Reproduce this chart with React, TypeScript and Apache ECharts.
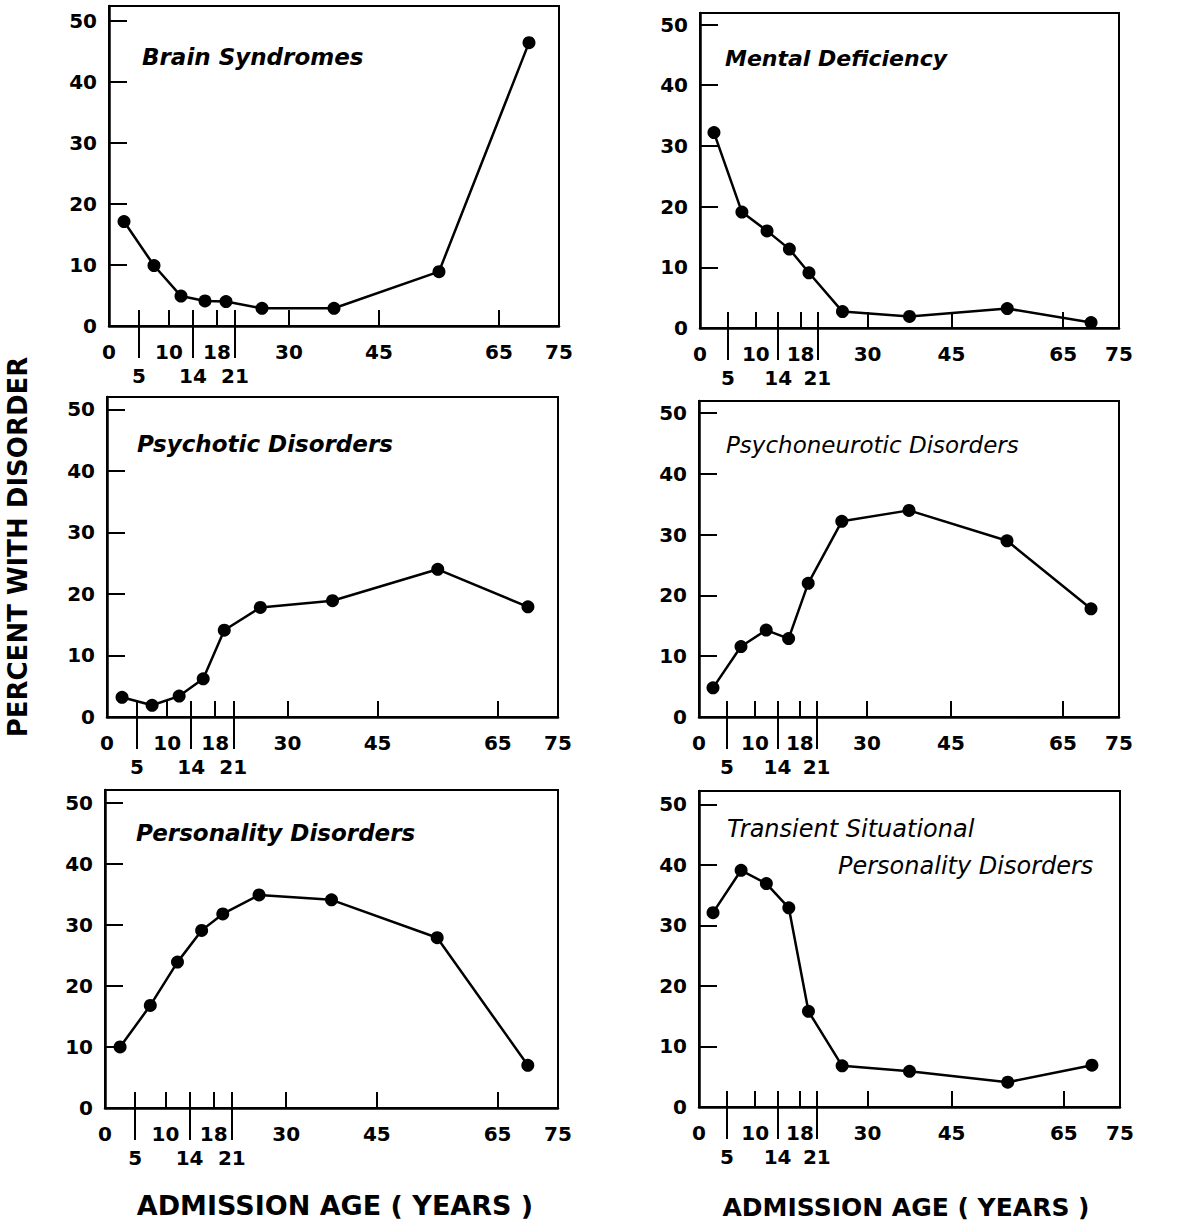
import React, { useEffect, useRef } from "react";
import * as echarts from "echarts";

// Age-group midpoints (years) shared by all panels
const ageMidpoints = [2.5, 7.5, 12, 16, 19.5, 25.5, 37.5, 55, 70];

// Percent with disorder, per panel
const brainSyndromes = [17.1, 9.9, 4.9, 4.1, 4.0, 2.9, 2.9, 8.9, 46.4];
const mentalDeficiency = [32.2, 19.1, 16.0, 13.0, 9.1, 2.7, 1.9, 3.2, 0.9];
const psychoticDisorders = [3.2, 1.9, 3.4, 6.2, 14.1, 17.8, 18.9, 24.0, 17.9];
const psychoneuroticDisorders = [4.8, 11.6, 14.3, 12.9, 22.0, 32.2, 34.0, 29.0, 17.8];
const personalityDisorders = [10.0, 16.8, 23.9, 29.1, 31.8, 34.9, 34.1, 27.9, 7.0];
const transientSituational = [32.1, 39.1, 36.9, 32.9, 15.8, 6.8, 5.9, 4.1, 6.9];

// Axis ticks / labels
const yLabelValues = [0, 10, 20, 30, 40, 50];
const yTickValues = [10, 20, 30, 40, 50];
const xLabelsUpper = [0, 10, 18, 30, 45, 65, 75];
const xLabelsLower = [5, 14, 21];
const xTickValues = [5, 10, 14, 18, 21, 30, 45, 65];

const panelTitles = [
  ["Brain Syndromes"],
  ["Mental Deficiency"],
  ["Psychotic Disorders"],
  ["Psychoneurotic Disorders"],
  ["Personality Disorders"],
  ["Transient Situational", "Personality Disorders"],
];
const panelSeries = [
  brainSyndromes,
  mentalDeficiency,
  psychoticDisorders,
  psychoneuroticDisorders,
  personalityDisorders,
  transientSituational,
];

const FONT = "'DejaVu Sans', sans-serif";

// layout (pixels)
const grids = [
  { left: 109, top: 6, width: 450, height: 320, yMax: 52.4 },
  { left: 700, top: 13, width: 419, height: 315, yMax: 51.9 },
  { left: 107, top: 397, width: 451, height: 320, yMax: 52 },
  { left: 699, top: 401, width: 420, height: 316, yMax: 52 },
  { left: 105, top: 790, width: 453, height: 318, yMax: 52.1 },
  { left: 699, top: 791, width: 421, height: 316, yMax: 52.2 },
];
const titlePos = [
  [{ x: 142, y: 57 }],
  [{ x: 725, y: 58 }],
  [{ x: 137, y: 444 }],
  [{ x: 726, y: 445 }],
  [{ x: 136, y: 833 }],
  [{ x: 727, y: 829 }, { x: 838, y: 866 }],
];
const titleBold = [true, true, true, false, true, false];
const titleSize = [23, 22, 23, 23, 23, 24];

export default function App() {
  const ref = useRef<HTMLDivElement>(null);
  useEffect(() => {
    if (!ref.current) return;
    const chart = echarts.init(ref.current, null, { renderer: "svg" });
    const xAxes: any[] = [];
    const yAxes: any[] = [];
    const series: any[] = [];
    const graphics: any[] = [];
    const labelStyle = {
      fontSize: 20,
      fontWeight: "bold",
      fontFamily: FONT,
      color: "#000",
    };
    grids.forEach((g, i) => {
      xAxes.push({
        gridIndex: i,
        type: "value",
        min: 0,
        max: 75,
        position: "bottom",
        axisLine: { show: true, onZero: false, lineStyle: { color: "#000", width: 2.5 } },
        axisTick: {
          show: true,
          inside: true,
          length: 16,
          customValues: xTickValues,
          lineStyle: { color: "#000", width: 2 },
        },
        axisLabel: { customValues: xLabelsUpper, margin: 16, ...labelStyle },
        splitLine: { show: false },
      });
      xAxes.push({
        gridIndex: i,
        type: "value",
        min: 0,
        max: 75,
        position: "bottom",
        axisLine: { show: false, onZero: false },
        axisTick: {
          show: true,
          inside: false,
          length: 32,
          customValues: xLabelsLower,
          lineStyle: { color: "#000", width: 2 },
        },
        axisLabel: { customValues: xLabelsLower, margin: 40, ...labelStyle },
        splitLine: { show: false },
      });
      yAxes.push({
        gridIndex: i,
        type: "value",
        min: 0,
        max: g.yMax,
        axisLine: { show: true, onZero: false, lineStyle: { color: "#000", width: 2.5 } },
        axisTick: {
          show: true,
          inside: true,
          length: 18,
          customValues: yTickValues,
          lineStyle: { color: "#000", width: 2 },
        },
        axisLabel: { customValues: yLabelValues, margin: 12, ...labelStyle },
        splitLine: { show: false },
      });
      series.push({
        type: "line",
        xAxisIndex: 2 * i,
        yAxisIndex: i,
        data: ageMidpoints.map((a, k) => [a, panelSeries[i][k]]),
        symbol: "circle",
        symbolSize: 13,
        lineStyle: { color: "#000", width: 2.5 },
        itemStyle: { color: "#000" },
        z: 5,
      });
      panelTitles[i].forEach((t, k) => {
        graphics.push({
          type: "text",
          x: titlePos[i][k].x,
          y: titlePos[i][k].y,
          style: {
            text: t,
            fill: "#000",
            font: `italic ${titleBold[i] ? "bold" : "normal"} ${titleSize[i]}px ${FONT}`,
            textAlign: "left",
            textVerticalAlign: "middle",
          },
        });
      });
    });
    graphics.push({
      type: "text",
      x: 18,
      y: 547,
      rotation: Math.PI / 2,
      style: {
        text: "PERCENT WITH DISORDER",
        fill: "#000",
        font: `bold 26px ${FONT}`,
        textAlign: "center",
        textVerticalAlign: "middle",
      },
    });
    graphics.push({
      type: "text",
      x: 335,
      y: 1205,
      style: {
        text: "ADMISSION AGE ( YEARS )",
        fill: "#000",
        font: `bold 27px ${FONT}`,
        textAlign: "center",
        textVerticalAlign: "middle",
      },
    });
    graphics.push({
      type: "text",
      x: 906,
      y: 1207,
      style: {
        text: "ADMISSION AGE ( YEARS )",
        fill: "#000",
        font: `bold 25px ${FONT}`,
        textAlign: "center",
        textVerticalAlign: "middle",
      },
    });
    chart.setOption({
      animation: false,
      backgroundColor: "#fff",
      grid: grids.map((g) => ({
        left: g.left,
        top: g.top,
        width: g.width,
        height: g.height,
        show: true,
        borderColor: "#000",
        borderWidth: 2,
        backgroundColor: "transparent",
      })),
      xAxis: xAxes,
      yAxis: yAxes,
      series,
      graphic: graphics,
    });
    return () => chart.dispose();
  }, []);
  return (
    <div
      ref={ref}
      style={{ position: "absolute", left: 0, top: 0, width: 1193, height: 1220 }}
    />
  );
}
